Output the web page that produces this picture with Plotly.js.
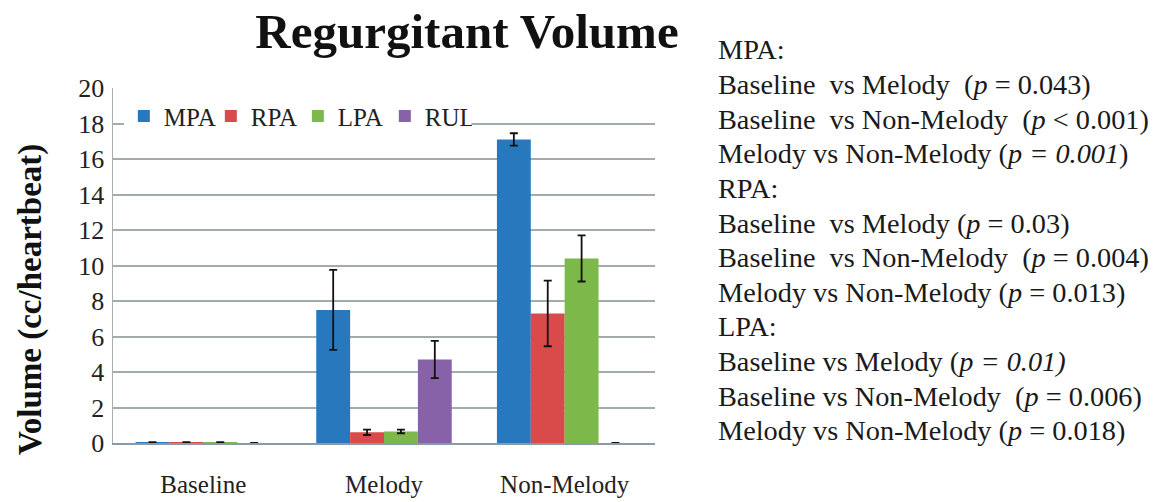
<!DOCTYPE html>
<html><head><meta charset="utf-8">
<script src="https://cdn.plot.ly/plotly-3.0.1.min.js"></script>
<style>body{margin:0;background:#fff}#chart{width:1172px;height:502px}</style>
</head><body><div id="chart"></div>
<script>
const categories = ["Baseline", "Melody", "Non-Melody"];
const seriesNames = ["MPA", "RPA", "LPA", "RUL"];
const mpaValues = [0.05, 7.5, 17.1];
const mpaErrors = [0, 2.25, 0.35];
const rpaValues = [0.05, 0.6, 7.3];
const rpaErrors = [0, 0.15, 1.85];
const lpaValues = [0.05, 0.65, 10.4];
const lpaErrors = [0, 0.1, 1.3];
const rulValues = [0, 4.7, 0];
const rulErrors = [null, 1.05, null];
const yTicks = [0, 2, 4, 6, 8, 10, 12, 14, 16, 18, 20];
const statLines = [
  "MPA:",
  "Baseline  vs Melody  (<i>p</i> = 0.043)",
  "Baseline  vs Non-Melody  (<i>p</i> < 0.001)",
  "Melody vs Non-Melody (<i>p = 0.001</i>)",
  "RPA:",
  "Baseline  vs Melody (<i>p</i> = 0.03)",
  "Baseline  vs Non-Melody  (<i>p</i> = 0.004)",
  "Melody vs Non-Melody (<i>p</i> = 0.013)",
  "LPA:",
  "Baseline vs Melody (<i>p = 0.01)</i>",
  "Baseline vs Non-Melody  (<i>p</i> = 0.006)",
  "Melody vs Non-Melody (<i>p</i> = 0.018)"
];

const colors = ["#2878be", "#d94b4b", "#7cb84a", "#8762a8"];
const vals = [mpaValues, rpaValues, lpaValues, rulValues];
const errs = [mpaErrors, rpaErrors, lpaErrors, rulErrors];
const serif = "Liberation Serif, DejaVu Serif, serif";

const traces = seriesNames.map((n, i) => ({
  type: "bar", name: n, x: categories, y: vals[i],
  marker: {color: colors[i]},
  error_y: {type: "data", array: errs[i], visible: true, color: "#111", thickness: 1.8, width: 4},
  hoverinfo: "skip"
}));

// plot area in pixels
const L = 113, R = 655, T = 88, B = 443;
const W = 1172, H = 502;
const annotations = statLines.map((t, i) => ({
  xref: "paper", yref: "paper",
  x: (716 - L) / (R - L),
  y: (B - (50 + i * 34.6)) / (B - T),
  xanchor: "left", yanchor: "middle",
  text: t, showarrow: false,
  font: {family: serif, size: 28.3, color: "#1a1a1a"}
}));
annotations.push({
  xref: "paper", yref: "paper",
  x: (30 - L) / (R - L), y: (B - 300) / (B - T),
  xanchor: "center", yanchor: "middle", textangle: -90,
  text: "<b>Volume (cc/heartbeat)</b>", showarrow: false,
  font: {family: serif, size: 33, color: "#111"}
});

const layout = {
  width: W, height: H,
  margin: {l: L, r: W - R, t: T, b: H - B, pad: 0},
  paper_bgcolor: "#fff", plot_bgcolor: "#fff",
  title: {text: "<b>Regurgitant Volume</b>", x: 467 / W, xanchor: "center", y: 1 - 31 / H, yanchor: "middle",
          font: {family: serif, size: 49, color: "#111"}},
  barmode: "group", bargap: 0.25, bargroupgap: 0,
  xaxis: {tickfont: {family: serif, size: 25, color: "#222"}, showline: true, linecolor: "#8a9aa6", linewidth: 2,
          ticks: "outside", ticklen: 18, tickcolor: "rgba(0,0,0,0)", showgrid: false, fixedrange: true},
  yaxis: {range: [0, 20], tickvals: yTicks, ticktext: yTicks.map(String), showgrid: true, gridcolor: "#a3abad", gridwidth: 2,
          showline: true, linecolor: "#a8aeb0", linewidth: 1.5, zeroline: false, ticks: "outside", ticklen: 2, tickcolor: "rgba(0,0,0,0)",
          tickfont: {family: serif, size: 26, color: "#222"}},
  showlegend: true,
  legend: {orientation: "h", x: 0.02, y: 0.985, xanchor: "left", yanchor: "top",
           bgcolor: "#fff", font: {family: serif, size: 25, color: "#222"}, itemwidth: 30,
           entrywidth: 42, entrywidthmode: "pixels", traceorder: "normal"},
  annotations: annotations
};
Plotly.newPlot("chart", traces, layout, {displayModeBar: false, staticPlot: true});
</script></body></html>
